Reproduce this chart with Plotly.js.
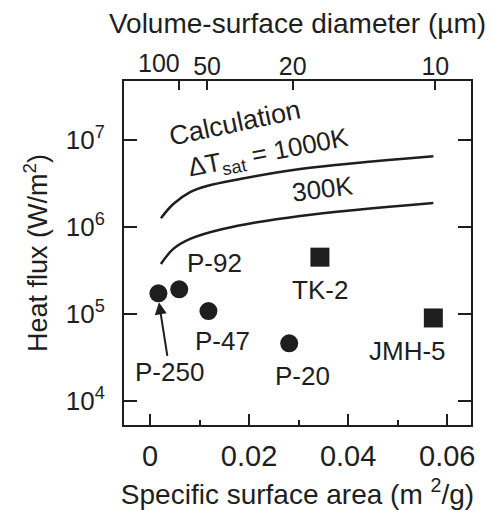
<!DOCTYPE html>
<html>
<head>
<meta charset="utf-8">
<script src="https://cdn.plot.ly/plotly-3.0.1.min.js"></script>
<style>html,body{margin:0;padding:0;background:#fff;}#chart{width:492px;height:510px;}</style>
</head>
<body>
<div id="chart"></div>
<script>
// Calculation curves (specific surface area in m2/g, heat flux in W/m2)
const calcX = [0.0022, 0.0047, 0.0081, 0.0115, 0.0182, 0.0303, 0.0572];
const calc1000K = [1.26e6, 1.84e6, 2.52e6, 2.96e6, 3.56e6, 4.64e6, 6.5e6];
const calc300X = [0.0022, 0.0047, 0.0081, 0.0147, 0.0303, 0.0572];
const calc300K = [3.76e5, 5.6e5, 7.3e5, 9.5e5, 1.34e6, 1.89e6];

// Measured powders
const circleNames = ["P-250", "P-92", "P-47", "P-20"];
const circleX = [0.0017, 0.0059, 0.0118, 0.0281];
const circleY = [1.73e5, 1.92e5, 1.08e5, 4.6e4];
const squareNames = ["TK-2", "JMH-5"];
const squareX = [0.0343, 0.0572];
const squareY = [4.5e5, 9.0e4];

// Top axis: volume-surface diameter (um); S = K / d
const diameters = [100, 50, 20, 10];
const diameterLabels = ["", "50", "20", "10"];   // "100" is set left of its tick below
const diamK = 0.576;

const yTickVals = [1e4, 1e5, 1e6, 1e7];
const yTickText = ["10<sup>4</sup>", "10<sup>5</sup>", "10<sup>6</sup>", "10<sup>7</sup>"];

const fontFam = "Liberation Sans, Arial, sans-serif";
const ink = "#1e1e1e";

const traces = [
  {x: calcX, y: calc1000K, mode: "lines", line: {color: ink, width: 2.5, shape: "spline"}, hoverinfo: "skip"},
  {x: calc300X, y: calc300K, mode: "lines", line: {color: ink, width: 2.5, shape: "spline"}, hoverinfo: "skip"},
  {x: circleX, y: circleY, text: circleNames, mode: "markers", marker: {symbol: "circle", size: 18, color: ink}},
  {x: squareX, y: squareY, text: squareNames, mode: "markers", marker: {symbol: "square", size: 19, color: ink}},
  // carrier for the top diameter axis (draws nothing)
  {x: [null], y: [null], xaxis: "x2", yaxis: "y", mode: "markers", hoverinfo: "skip", showlegend: false}
];

const labelFont = {family: fontFam, size: 26, color: ink};
const lg = Math.log10;

const annotations = [
  {x: 0.0131, y: lg(3.85e5), text: "P-92"},
  {x: 0.0343, y: lg(1.89e5), text: "TK-2"},
  {x: 0.01455, y: lg(4.9e4), text: "P-47"},
  {x: 0.0307, y: lg(1.94e4), text: "P-20"},
  {x: 0.0519, y: lg(3.76e4), text: "JMH-5"},
  {x: 0.0171, y: lg(1.58e7), text: "Calculation", textangle: -12, font: {family: fontFam, size: 27, color: ink}},
  {x: 0.0240, y: lg(7.0e6), text: "ΔT<sub>sat</sub> = 1000K", textangle: -11},
  {x: 0.0348, y: lg(2.75e6), text: "300K", textangle: -7}
].map(a => Object.assign({xref: "x", yref: "y", showarrow: false, font: labelFont}, a));

annotations.push({
  x: circleX[0] + 0.0001, y: lg(1.36e5), xref: "x", yref: "y",
  text: "P-250", font: labelFont,
  showarrow: true, arrowhead: 2, arrowsize: 1.2, arrowwidth: 2, arrowcolor: ink,
  ax: 11, ay: 70, standoff: 0
});

// top-axis label for the 100 µm tick, sitting just left of its tick
annotations.push({
  x: diamK / diameters[0], y: 1, xref: "x2", yref: "paper",
  xanchor: "right", yanchor: "bottom", xshift: 3, yshift: 2,
  text: String(diameters[0]), showarrow: false,
  font: {family: fontFam, size: 25, color: ink}
});

const layout = {
  width: 492, height: 510,
  margin: {l: 124, r: 21, t: 81, b: 85},
  paper_bgcolor: "#fff", plot_bgcolor: "#fff",
  showlegend: false,
  font: {family: fontFam, color: ink, size: 26},
  xaxis: {
    range: [-0.00525, 0.0648],
    tickvals: [0, 0.02, 0.04, 0.06], ticktext: ["0", "0.02", "0.04", "0.06"],
    ticks: "inside", ticklen: 11, tickwidth: 2, tickcolor: ink,
    minor: {tickvals: [0.01, 0.03, 0.05], ticks: "inside", ticklen: 5, tickwidth: 2, tickcolor: ink},
    showline: true, linewidth: 2, linecolor: ink, mirror: true,
    showgrid: false, zeroline: false,
    ticklabelstandoff: 4,
    tickfont: {family: fontFam, size: 29, color: ink},
    title: {text: "Specific surface area (m <sup>2</sup>/g)", font: {family: fontFam, size: 28, color: ink}, standoff: 14}
  },
  xaxis2: {
    overlaying: "x", side: "top", anchor: "y",
    range: [-0.00525, 0.0648],
    tickvals: diameters.map(d => diamK / d), ticktext: diameterLabels,
    tickangle: 0,
    ticks: "inside", ticklen: 9, tickwidth: 2, tickcolor: ink,
    showline: false, showgrid: false, zeroline: false,
    tickfont: {family: fontFam, size: 25, color: ink},
    title: {text: "Volume-surface diameter (µm)", font: {family: fontFam, size: 28, color: ink}, standoff: 10}
  },
  yaxis: {
    type: "log", range: [3.724, 7.678],
    tickvals: yTickVals, ticktext: yTickText,
    ticks: "inside", ticklen: 13, tickwidth: 2, tickcolor: ink,
    showline: true, linewidth: 2, linecolor: ink, mirror: "ticks",
    showgrid: false, zeroline: false,
    ticklabelstandoff: 12,
    tickfont: {family: fontFam, size: 26, color: ink},
    title: {text: "Heat flux (W/m<sup>2</sup>)", font: {family: fontFam, size: 27, color: ink}, standoff: 10}
  },
  annotations: annotations
};

Plotly.newPlot("chart", traces, layout, {staticPlot: true, displayModeBar: false});
</script>
</body>
</html>
